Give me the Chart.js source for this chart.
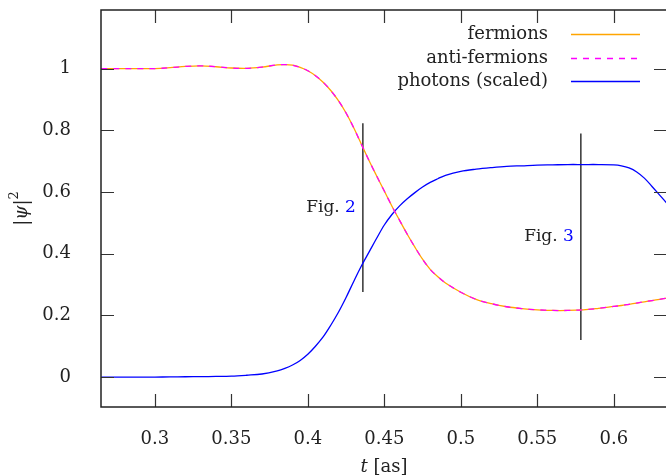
<!DOCTYPE html>
<html>
<head>
<meta charset="utf-8">
<script src="https://cdn.jsdelivr.net/npm/chart.js@4"></script>
<style>
  html, body { margin: 0; padding: 0; background: #fff; overflow: hidden; }
  #wrap { width: 668px; height: 476px; }
</style>
</head>
<body>
<div id="wrap"><canvas id="myCanvas"></canvas></div>
<script>
// time grid [as] and the curves
const tValues = [0.265, 0.27, 0.28, 0.29, 0.30, 0.31, 0.32, 0.33, 0.34, 0.35, 0.36, 0.37, 0.38,
  0.385, 0.39, 0.395, 0.40, 0.405, 0.41, 0.415, 0.42, 0.425, 0.43, 0.435, 0.44, 0.445, 0.45,
  0.455, 0.46, 0.465, 0.47, 0.475, 0.48, 0.485, 0.49, 0.50, 0.51, 0.52, 0.53, 0.54, 0.55, 0.56, 0.57,
  0.58, 0.59, 0.60, 0.605, 0.61, 0.615, 0.62, 0.625, 0.63, 0.635];

const fermions = [1.0, 1.0, 1.0, 1.0, 1.0, 1.003, 1.007, 1.009, 1.006, 1.002, 1.001, 1.005, 1.012,
  1.013, 1.011, 1.004, 0.993, 0.977, 0.956, 0.929, 0.896, 0.856, 0.808, 0.755, 0.702, 0.652, 0.603,
  0.554, 0.508, 0.463, 0.421, 0.382, 0.349, 0.325, 0.305, 0.275, 0.252, 0.238, 0.228, 0.222, 0.218, 0.216, 0.216,
  0.218, 0.223, 0.229, 0.232, 0.236, 0.24, 0.244, 0.248, 0.252, 0.256];

// anti-fermions lie exactly on top of the fermions in the figure
const antiFermions = [1.0, 1.0, 1.0, 1.0, 1.0, 1.003, 1.007, 1.009, 1.006, 1.002, 1.001, 1.005, 1.012,
  1.013, 1.011, 1.004, 0.993, 0.977, 0.956, 0.929, 0.896, 0.856, 0.808, 0.755, 0.702, 0.652, 0.603,
  0.554, 0.508, 0.463, 0.421, 0.382, 0.349, 0.325, 0.305, 0.275, 0.252, 0.238, 0.228, 0.222, 0.218, 0.216, 0.216,
  0.218, 0.223, 0.229, 0.232, 0.236, 0.24, 0.244, 0.248, 0.252, 0.256];

const photons = [0, 0, 0, 0, 0, 0.0005, 0.001, 0.0015, 0.002, 0.003, 0.006, 0.01, 0.02,
  0.028, 0.039, 0.054, 0.074, 0.1, 0.13, 0.168, 0.21, 0.258, 0.31, 0.36, 0.405, 0.45, 0.493,
  0.527, 0.555, 0.578, 0.598, 0.616, 0.631, 0.643, 0.654, 0.667, 0.674, 0.679, 0.683, 0.685, 0.687, 0.688, 0.689,
  0.689, 0.689, 0.688, 0.685, 0.678, 0.665, 0.645, 0.618, 0.59, 0.562];

const seriesLabels = ["fermions", "anti-fermions", "photons (scaled)"];

// vertical markers for the other figures
const figNames = ["2", "3"];
const figT = [0.436, 0.5785];
const figLow = [0.276, 0.12];
const figHigh = [0.823, 0.79];
const figLabelY = [0.548, 0.454];

const xTicks = [0.3, 0.35, 0.4, 0.45, 0.5, 0.55, 0.6];
const yTicks = [0, 0.2, 0.4, 0.6, 0.8, 1];

const FONT = "'DejaVu Serif', serif";

function pts(arr) {
  return tValues.map((t, i) => ({ x: t, y: arr[i] }));
}

let datasets = [
  { label: seriesLabels[0], data: pts(fermions), borderColor: "#ffa500", borderWidth: 1.3, order: 2 },
  { label: seriesLabels[1], data: pts(antiFermions), borderColor: "#ff00ff", borderWidth: 1.3, borderDash: [6, 6], order: 1 },
  { label: seriesLabels[2], data: pts(photons), borderColor: "#0000ff", borderWidth: 1.3, order: 3 }
];
datasets.forEach(d => {
  d.pointRadius = 0;
  d.tension = 0.35;
  d.fill = false;
});
figT.forEach((t, i) => {
  datasets.push({
    label: "fig" + figNames[i],
    data: [{ x: t, y: figLow[i] }, { x: t, y: figHigh[i] }],
    borderColor: "#000", borderWidth: 1.2, pointRadius: 0, order: 4, isMarker: true
  });
});

// frame, inside ticks (gnuplot style), titles, legend and figure labels
const decor = {
  id: "decor",
  afterDraw(chart) {
    const ctx = chart.ctx;
    const a = chart.chartArea;
    const xs = chart.scales.x, ys = chart.scales.y;
    ctx.save();

    // ticks
    ctx.strokeStyle = "#333";
    ctx.lineWidth = 1.2;
    const tl = 13;
    ctx.beginPath();
    xTicks.forEach(v => {
      const px = Math.round(xs.getPixelForValue(v)) + 0.5;
      ctx.moveTo(px, a.bottom); ctx.lineTo(px, a.bottom - tl);
      ctx.moveTo(px, a.top); ctx.lineTo(px, a.top + tl);
    });
    yTicks.forEach(v => {
      const py = Math.round(ys.getPixelForValue(v)) + 0.5;
      ctx.moveTo(a.left, py); ctx.lineTo(a.left + tl, py);
      ctx.moveTo(a.right, py); ctx.lineTo(a.right - tl, py);
    });
    ctx.stroke();

    // frame
    ctx.strokeStyle = "#222";
    ctx.lineWidth = 1.5;
    ctx.strokeRect(a.left, a.top, a.right - a.left, a.bottom - a.top);

    // x title: t [as]
    ctx.fillStyle = "#222";
    ctx.textBaseline = "middle";
    ctx.textAlign = "left";
    const fIt = "italic 18px " + FONT, fUp = "18px " + FONT;
    ctx.font = fIt; const w1 = ctx.measureText("t ").width;
    ctx.font = fUp; const w2 = ctx.measureText("[as]").width;
    let x0 = (a.left + a.right) / 2 - (w1 + w2) / 2;
    ctx.font = fIt; ctx.fillText("t ", x0, 467);
    ctx.font = fUp; ctx.fillText("[as]", x0 + w1, 467);

    // y title: |psi|^2
    ctx.save();
    ctx.translate(22, (a.top + a.bottom) / 2);
    ctx.rotate(-Math.PI / 2);
    const parts = [["|", fUp, 0], ["ψ", fIt, 0], ["|", fUp, 0], ["2", "13px " + FONT, -7]];
    let tot = 0;
    parts.forEach(p => { ctx.font = p[1]; tot += ctx.measureText(p[0]).width; });
    let cx = -tot / 2;
    parts.forEach(p => {
      ctx.font = p[1];
      ctx.fillText(p[0], cx, p[2]);
      cx += ctx.measureText(p[0]).width;
    });
    ctx.restore();

    // legend: text right aligned, sample to the right
    const rowY = [34, 58, 81];
    chart.data.datasets.forEach((d, i) => {
      if (d.isMarker) return;
      ctx.font = "18px " + FONT;
      ctx.textAlign = "right";
      ctx.fillStyle = "#222";
      ctx.fillText(d.label, 548, rowY[i]);
      ctx.strokeStyle = d.borderColor;
      ctx.lineWidth = 1.3;
      ctx.setLineDash(d.borderDash || []);
      ctx.beginPath();
      ctx.moveTo(571, rowY[i] + 0.5);
      ctx.lineTo(640, rowY[i] + 0.5);
      ctx.stroke();
      ctx.setLineDash([]);
    });

    // figure labels
    ctx.font = "17px " + FONT;
    ctx.textAlign = "left";
    figNames.forEach((n, i) => {
      const px = xs.getPixelForValue(figT[i]) - 7;
      const py = ys.getPixelForValue(figLabelY[i]);
      const wn = ctx.measureText(n).width;
      const wf = ctx.measureText("Fig. ").width;
      ctx.fillStyle = "#222";
      ctx.fillText("Fig. ", px - wn - wf, py);
      ctx.fillStyle = "#0000ff";
      ctx.fillText(n, px - wn, py);
    });

    ctx.restore();
  }
};

const ctx = document.getElementById("myCanvas");
new Chart(ctx, {
  type: "line",
  data: { datasets: datasets },
  options: {
    responsive: true,
    maintainAspectRatio: false,
    animation: false,
    layout: { padding: { top: 10, right: 1, left: 0, bottom: 0 } },
    plugins: {
      legend: { display: false },
      tooltip: { enabled: false }
    },
    scales: {
      x: {
        type: "linear",
        min: 0.2648,
        max: 0.6348,
        grid: { display: false },
        border: { display: false },
        afterBuildTicks: s => { s.ticks = xTicks.map(v => ({ value: v })); },
        afterFit: s => { s.height = 69; s.paddingLeft = 0; s.paddingRight = 0; },
        ticks: {
          padding: 14,
          maxRotation: 0,
          color: "#222",
          font: { family: FONT, size: 18 },
          callback: v => String(v)
        }
      },
      y: {
        type: "linear",
        min: -0.097,
        max: 1.19,
        grid: { display: false },
        border: { display: false },
        afterBuildTicks: s => { s.ticks = yTicks.map(v => ({ value: v })); },
        afterFit: s => { s.width = 101; s.paddingTop = 0; s.paddingBottom = 0; },
        ticks: {
          padding: 22,
          color: "#222",
          font: { family: FONT, size: 18 },
          callback: v => String(v)
        }
      }
    }
  },
  plugins: [decor]
});
</script>
</body>
</html>
